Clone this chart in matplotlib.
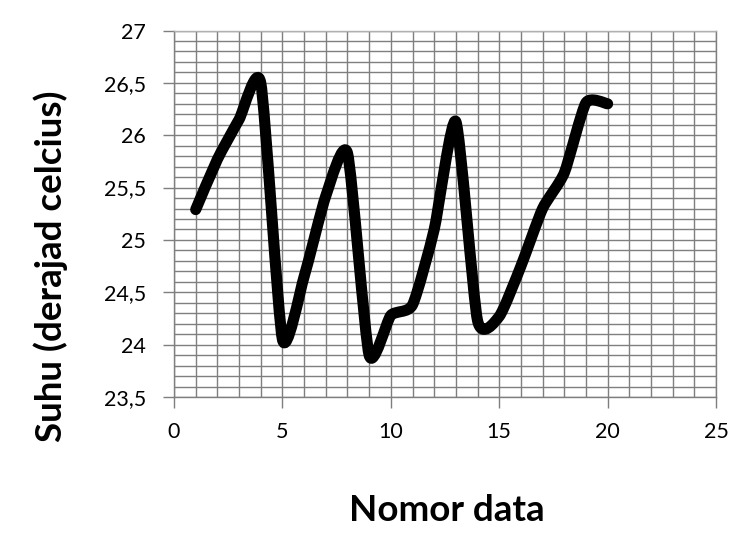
import matplotlib
matplotlib.use("Agg")
import matplotlib.pyplot as plt
from matplotlib.path import Path
from matplotlib.patches import PathPatch
from matplotlib.ticker import MultipleLocator, FuncFormatter
import numpy as np

# Temperature readings per data number
nomor = [1, 2, 3, 4, 5, 6, 7, 8, 9, 10, 11, 12, 13, 14, 15, 16, 17, 18, 19, 20]
suhu = [25.29, 25.77, 26.15, 26.50, 24.05, 24.65, 25.42, 25.83, 23.90, 24.28,
        24.38, 25.10, 26.13, 24.23, 24.27, 24.75, 25.30, 25.64, 26.31, 26.30]

x_label = "Nomor data"
y_label = "Suhu (derajad celcius)"

plt.rcParams['font.family'] = ['Lato', 'DejaVu Sans']

fig = plt.figure(figsize=(7.44, 5.38), dpi=100)
ax = fig.add_axes([0.2339, 0.262, 0.7285, 0.6813])

ax.set_xlim(0, 25)
ax.set_ylim(23.5, 27)

ax.xaxis.set_major_locator(MultipleLocator(5))
ax.xaxis.set_minor_locator(MultipleLocator(1))
ax.yaxis.set_major_locator(MultipleLocator(0.5))
ax.yaxis.set_minor_locator(MultipleLocator(0.1))

grid_col = "#7f7f7f"
ax.grid(which="both", color=grid_col, linewidth=1.0)
ax.set_axisbelow(True)

for s in ax.spines.values():
    s.set_color(grid_col)
    s.set_linewidth(1.0)
ax.spines["top"].set_color("#b0b0b0")

ax.tick_params(which="major", direction="out", length=8, width=1, color=grid_col,
               labelsize=15.5, pad=10)
ax.tick_params(which="minor", length=0)
ax.tick_params(axis="y", pad=12)

fmt = FuncFormatter(lambda v, p: (f"{v:g}").replace(".", ","))
ax.yaxis.set_major_formatter(fmt)
ax.xaxis.set_major_formatter(FuncFormatter(lambda v, p: f"{v:g}"))

# Smoothed line: cardinal-spline segments expressed as cubic Bezier curves
tension = 0.1
pts = np.column_stack([nomor, suhu]).astype(float)
ext = np.vstack([pts[0], pts, pts[-1]])
verts = [tuple(pts[0])]
codes = [Path.MOVETO]
for i in range(1, len(ext) - 2):
    p0, p1, p2, p3 = ext[i - 1], ext[i], ext[i + 1], ext[i + 2]
    c1 = p1 + (p2 - p0) * tension
    c2 = p2 - (p3 - p1) * tension
    verts += [tuple(c1), tuple(c2), tuple(p2)]
    codes += [Path.CURVE4] * 3
curve = PathPatch(Path(verts, codes), transform=ax.transData, fill=False,
                  edgecolor="black", linewidth=8, capstyle="round",
                  joinstyle="round", zorder=3)
ax.add_patch(curve)

fig.text(0.600, 0.052, x_label, ha="center", va="center", fontsize=26.5,
         fontweight="bold")
fig.text(0.068, 0.505, y_label, ha="center", va="center", rotation=90,
         fontsize=26.5, fontweight="bold")

fig.savefig("out.png", dpi=100)
